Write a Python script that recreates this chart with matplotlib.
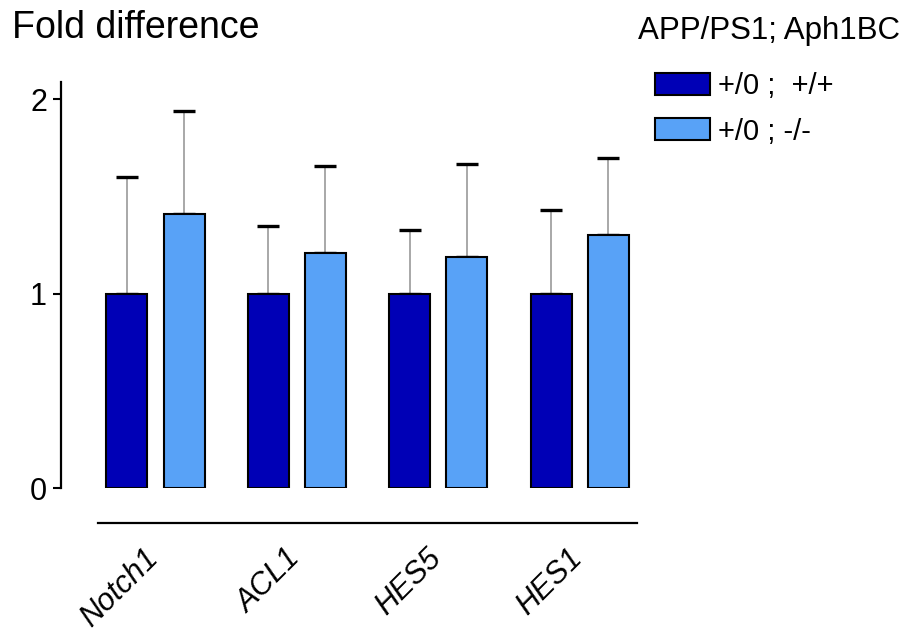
import numpy as np
import matplotlib
matplotlib.use("Agg")
import matplotlib.pyplot as plt
from matplotlib import transforms

plt.rcParams['font.family'] = ['Liberation Sans', 'DejaVu Sans']

genes = ["Notch1", "ACL1", "HES5", "HES1"]
series_names = ["+/0 ;  +/+", "+/0 ; -/-"]
wt_mean = [1.0, 1.0, 1.0, 1.0]
wt_err = [0.60, 0.35, 0.33, 0.43]
ko_mean = [1.41, 1.21, 1.19, 1.30]
ko_err = [0.53, 0.45, 0.48, 0.40]
legend_title = "APP/PS1; Aph1BC"
ylabel = "Fold difference"

dark = "#0000B6"
light = "#58A2F7"

W, H = 910, 637
fig = plt.figure(figsize=(W / 100, H / 100), dpi=100)
ax = fig.add_axes([61 / W, (H - 488) / H, (660 - 61) / W, (488 - 82) / H])

x = np.arange(len(genes))
off = 0.202
bw = 0.29

def draw(xpos, mean, err, color, label):
    bars = ax.bar(xpos, mean, width=bw, color=color, edgecolor="black",
                  linewidth=1.5, label=label, zorder=2)
    eb = ax.errorbar(xpos, mean, yerr=[np.zeros(len(err)), err], fmt="none",
                     ecolor="#9a9a9a", elinewidth=1.2, capsize=8,
                     capthick=2.4, zorder=1)
    for cap in eb[1]:
        cap.set_color("black")
        cap.set_markeredgecolor("black")
    return bars

b1 = draw(x - off, wt_mean, wt_err, dark, series_names[0])
b2 = draw(x + off, ko_mean, ko_err, light, series_names[1])

ax.set_xlim(-0.668, 3.568)
ax.set_ylim(0, 2.09)
ax.set_yticks([0, 1, 2])
ax.set_yticklabels(["0", "1", "2"])
ax.tick_params(axis="y", direction="out", length=6, width=1.5, pad=4,
               labelsize=22)
for s in ["top", "right", "bottom"]:
    ax.spines[s].set_visible(False)
ax.spines["left"].set_linewidth(1.6)

# gene labels
ax.set_xticks(x)
ax.set_xticklabels(genes, rotation=45, ha="right", rotation_mode="anchor",
                   fontstyle="italic", fontsize=22)
ax.tick_params(axis="x", length=0, pad=40)
shift = transforms.ScaledTranslation(-12 / 100, 0, fig.dpi_scale_trans)
for lab in ax.get_xticklabels():
    lab.set_transform(lab.get_transform() + shift)

# line under the bars
ax.plot([-0.407, 3.405], [-0.18, -0.18], color="black", lw=1.6,
        clip_on=False)

fig.text(12 / W, 1 - 10 / H, ylabel, fontsize=27, ha="left", va="top")
fig.text(638 / W, 1 - 16 / H, legend_title, fontsize=22.5, ha="left", va="top")

leg = ax.legend(handles=[b1, b2], loc="upper left",
                bbox_to_anchor=(655 / W, 1 - 72 / H),
                bbox_transform=fig.transFigure, frameon=False,
                fontsize=21, handlelength=1.9, handleheight=0.78,
                handletextpad=0.25, labelspacing=0.6,
                borderpad=0, borderaxespad=0)

fig.savefig("out.png", dpi=100)
